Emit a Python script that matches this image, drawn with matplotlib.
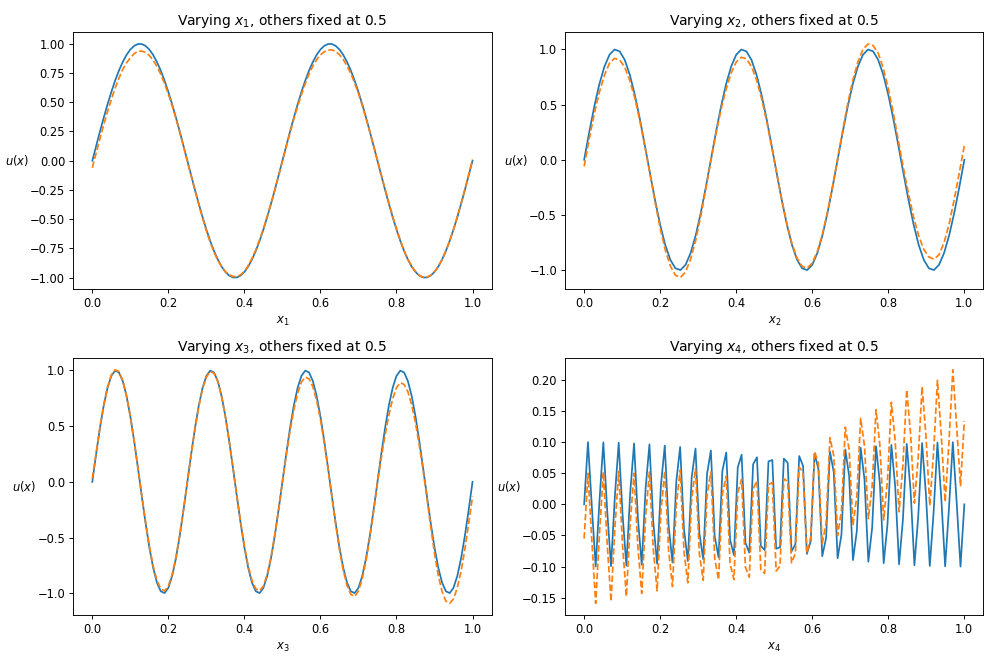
import numpy as np
import matplotlib
matplotlib.use('Agg')
import matplotlib.pyplot as plt

# exact solution (blue) vs. network prediction (orange), one coordinate varied at a time

u_true_x1 = [0.0, 0.125, 0.249, 0.368, 0.482, 0.588, 0.685, 0.771, 0.844, 0.905,
             0.951, 0.982, 0.998, 0.998, 0.982, 0.951, 0.905, 0.844, 0.771, 0.685,
             0.588, 0.482, 0.368, 0.249, 0.125, 0.0, -0.125, -0.249, -0.368, -0.482,
             -0.588, -0.685, -0.771, -0.844, -0.905, -0.951, -0.982, -0.998, -0.998, -0.982,
             -0.951, -0.905, -0.844, -0.771, -0.685, -0.588, -0.482, -0.368, -0.249, -0.125,
             0.0, 0.125, 0.249, 0.368, 0.482, 0.588, 0.685, 0.771, 0.844, 0.905,
             0.951, 0.982, 0.998, 0.998, 0.982, 0.951, 0.905, 0.844, 0.771, 0.685,
             0.588, 0.482, 0.368, 0.249, 0.125, 0.0, -0.125, -0.249, -0.368, -0.482,
             -0.588, -0.685, -0.771, -0.844, -0.905, -0.951, -0.982, -0.998, -0.998, -0.982,
             -0.951, -0.905, -0.844, -0.771, -0.685, -0.588, -0.482, -0.368, -0.249, -0.125,
             0.0]
u_pred_x1 = [-0.06, 0.065, 0.19, 0.307, 0.42, 0.525, 0.62, 0.706, 0.78, 0.837,
             0.88, 0.915, 0.935, 0.938, 0.925, 0.90, 0.86, 0.806, 0.74, 0.66,
             0.57, 0.469, 0.36, 0.242, 0.12, -0.005, -0.13, -0.255, -0.375, -0.491,
             -0.6, -0.696, -0.78, -0.85, -0.905, -0.948, -0.975, -0.99, -0.99, -0.975,
             -0.945, -0.897, -0.835, -0.761, -0.675, -0.58, -0.475, -0.365, -0.25, -0.128,
             -0.005, 0.118, 0.24, 0.355, 0.465, 0.567, 0.66, 0.741, 0.81, 0.864,
             0.905, 0.932, 0.945, 0.948, 0.935, 0.907, 0.865, 0.811, 0.745, 0.665,
             0.575, 0.471, 0.36, 0.244, 0.125, 0.003, -0.12, -0.242, -0.36, -0.474,
             -0.58, -0.68, -0.77, -0.842, -0.9, -0.947, -0.98, -0.995, -0.995, -0.98,
             -0.95, -0.905, -0.845, -0.771, -0.685, -0.587, -0.48, -0.365, -0.245, -0.118,
             0.01]

u_true_x2 = [0.0, 0.249, 0.482, 0.685, 0.844, 0.951, 0.998, 0.982, 0.905, 0.771,
             0.588, 0.368, 0.125, -0.125, -0.368, -0.588, -0.771, -0.905, -0.982, -0.998,
             -0.951, -0.844, -0.685, -0.482, -0.249, 0.0, 0.249, 0.482, 0.685, 0.844,
             0.951, 0.998, 0.982, 0.905, 0.771, 0.588, 0.368, 0.125, -0.125, -0.368,
             -0.588, -0.771, -0.905, -0.982, -0.998, -0.951, -0.844, -0.685, -0.482, -0.249,
             0.0, 0.249, 0.482, 0.685, 0.844, 0.951, 0.998, 0.982, 0.905, 0.771,
             0.588, 0.368, 0.125, -0.125, -0.368, -0.588, -0.771, -0.905, -0.982, -0.998,
             -0.951, -0.844, -0.685, -0.482, -0.249, 0.0]
u_pred_x2 = [-0.06, 0.187, 0.418, 0.61, 0.766, 0.875, 0.918, 0.903, 0.84, 0.717,
             0.559, 0.35, 0.115, -0.13, -0.385, -0.62, -0.815, -0.96, -1.045, -1.065,
             -1.015, -0.9, -0.73, -0.51, -0.265, -0.01, 0.235, 0.455, 0.64, 0.785,
             0.885, 0.928, 0.915, 0.845, 0.725, 0.555, 0.35, 0.115, -0.125, -0.365,
             -0.58, -0.76, -0.89, -0.965, -0.98, -0.935, -0.83, -0.675, -0.475, -0.24,
             0.01, 0.265, 0.51, 0.72, 0.885, 1.0, 1.048, 1.035, 0.965, 0.83,
             0.645, 0.42, 0.17, -0.08, -0.31, -0.52, -0.69, -0.81, -0.88, -0.9,
             -0.86, -0.75, -0.58, -0.36, -0.12, 0.13]

u_true_x3 = [0.0, 0.249, 0.482, 0.685, 0.844, 0.951, 0.998, 0.982, 0.905, 0.771,
             0.588, 0.368, 0.125, -0.125, -0.368, -0.588, -0.771, -0.905, -0.982, -0.998,
             -0.951, -0.844, -0.685, -0.482, -0.249, 0.0, 0.249, 0.482, 0.685, 0.844,
             0.951, 0.998, 0.982, 0.905, 0.771, 0.588, 0.368, 0.125, -0.125, -0.368,
             -0.588, -0.771, -0.905, -0.982, -0.998, -0.951, -0.844, -0.685, -0.482, -0.249,
             0.0, 0.249, 0.482, 0.685, 0.844, 0.951, 0.998, 0.982, 0.905, 0.771,
             0.588, 0.368, 0.125, -0.125, -0.368, -0.588, -0.771, -0.905, -0.982, -0.998,
             -0.951, -0.844, -0.685, -0.482, -0.249, 0.0, 0.249, 0.482, 0.685, 0.844,
             0.951, 0.998, 0.982, 0.905, 0.771, 0.588, 0.368, 0.125, -0.125, -0.368,
             -0.588, -0.771, -0.905, -0.982, -0.998, -0.951, -0.844, -0.685, -0.482, -0.249,
             0.0]
u_pred_x3 = [0.03, 0.26, 0.49, 0.69, 0.85, 0.96, 1.005, 0.99, 0.91, 0.77,
             0.585, 0.365, 0.125, -0.12, -0.36, -0.575, -0.755, -0.885, -0.96, -0.978,
             -0.935, -0.83, -0.675, -0.475, -0.245, 0.0, 0.245, 0.475, 0.675, 0.835,
             0.94, 0.99, 0.975, 0.9, 0.765, 0.585, 0.365, 0.125, -0.12, -0.36,
             -0.575, -0.755, -0.885, -0.96, -0.978, -0.935, -0.83, -0.675, -0.475, -0.245,
             0.0, 0.235, 0.455, 0.645, 0.795, 0.895, 0.94, 0.925, 0.855, 0.73,
             0.56, 0.35, 0.115, -0.13, -0.38, -0.605, -0.795, -0.93, -1.01, -1.028,
             -0.98, -0.87, -0.705, -0.5, -0.26, -0.01, 0.215, 0.42, 0.6, 0.745,
             0.845, 0.89, 0.875, 0.81, 0.69, 0.53, 0.33, 0.105, -0.14, -0.4,
             -0.64, -0.84, -0.985, -1.07, -1.09, -1.05, -0.95, -0.8, -0.6, -0.37,
             -0.13]

u_true_x4 = [0.0, 0.1, -0.0032, -0.0999, 0.0063, 0.0997, -0.0095, -0.0994, 0.0127, 0.099,
             -0.0158, -0.0985, 0.0189, 0.0979, -0.022, -0.0972, 0.0251, 0.0964, -0.0282, -0.0955,
             0.0312, 0.0945, -0.0342, -0.0934, 0.0372, 0.0922, -0.0401, -0.091, 0.043, 0.0896,
             -0.0458, -0.0881, 0.0486, 0.0866, -0.0514, -0.085, 0.0541, 0.0833, -0.0567, -0.0815,
             0.0593, 0.0796, -0.0618, -0.0776, 0.0643, 0.0756, -0.0667, -0.0735, 0.069, 0.0713,
             -0.0713, -0.069, 0.0735, 0.0667, -0.0756, -0.0643, 0.0776, 0.0618, -0.0796, -0.0593,
             0.0815, 0.0567, -0.0833, -0.0541, 0.085, 0.0514, -0.0866, -0.0486, 0.0881, 0.0458,
             -0.0896, -0.043, 0.091, 0.0401, -0.0922, -0.0372, 0.0934, 0.0342, -0.0945, -0.0312,
             0.0955, 0.0282, -0.0964, -0.0251, 0.0972, 0.022, -0.0979, -0.0189, 0.0985, 0.0158,
             -0.099, -0.0127, 0.0994, 0.0095, -0.0997, -0.0063, 0.0999, 0.0032, -0.1, 0.0]
u_pred_x4 = [-0.055, 0.050, -0.058, -0.159, -0.047, 0.052, -0.063, -0.156, -0.038, 0.053,
             -0.066, -0.148, -0.029, 0.050, -0.069, -0.143, -0.020, 0.052, -0.072, -0.139,
             -0.011, 0.054, -0.074, -0.132, -0.001, 0.055, -0.076, -0.126, 0.009, 0.057,
             -0.079, -0.122, 0.015, 0.052, -0.087, -0.121, 0.017, 0.045, -0.095, -0.121,
             0.019, 0.040, -0.101, -0.117, 0.025, 0.038, -0.105, -0.111, 0.032, 0.035,
             -0.107, -0.099, 0.041, 0.037, -0.094, -0.079, 0.060, 0.051, -0.078, -0.053,
             0.085, 0.066, -0.063, -0.030, 0.107, 0.078, -0.050, -0.010, 0.124, 0.088,
             -0.034, 0.013, 0.138, 0.094, -0.023, 0.029, 0.152, 0.095, -0.025, 0.040,
             0.164, 0.101, -0.012, 0.063, 0.184, 0.113, 0.002, 0.076, 0.189, 0.111,
             -0.002, 0.085, 0.199, 0.110, 0.004, 0.100, 0.216, 0.125, 0.030, 0.134]

true_curves = [u_true_x1, u_true_x2, u_true_x3, u_true_x4]
pred_curves = [u_pred_x1, u_pred_x2, u_pred_x3, u_pred_x4]

fig, axes = plt.subplots(2, 2, figsize=(12, 8), dpi=83)

for k, ax in enumerate(axes.flat):
    u_true = true_curves[k]
    u_pred = pred_curves[k]
    # sample positions along the varied coordinate
    xs_true = np.linspace(0.0, 1.0, len(u_true))
    xs_pred = np.linspace(0.0, 1.0, len(u_pred))
    ax.plot(xs_true, u_true, color='C0', linewidth=1.5)
    ax.plot(xs_pred, u_pred, color='C1', linestyle='--', linewidth=1.5)
    ax.set_title(f'Varying $x_{k + 1}$, others fixed at 0.5')
    ax.set_xlabel(f'$x_{k + 1}$')
    ax.set_ylabel('$u(x)$', rotation=0, ha='right', va='center', labelpad=1)

plt.subplots_adjust(left=0.0736, right=0.9873, top=0.9513, bottom=0.0738,
                    wspace=0.176, hspace=0.269)
fig.savefig('out.png', dpi=83)
